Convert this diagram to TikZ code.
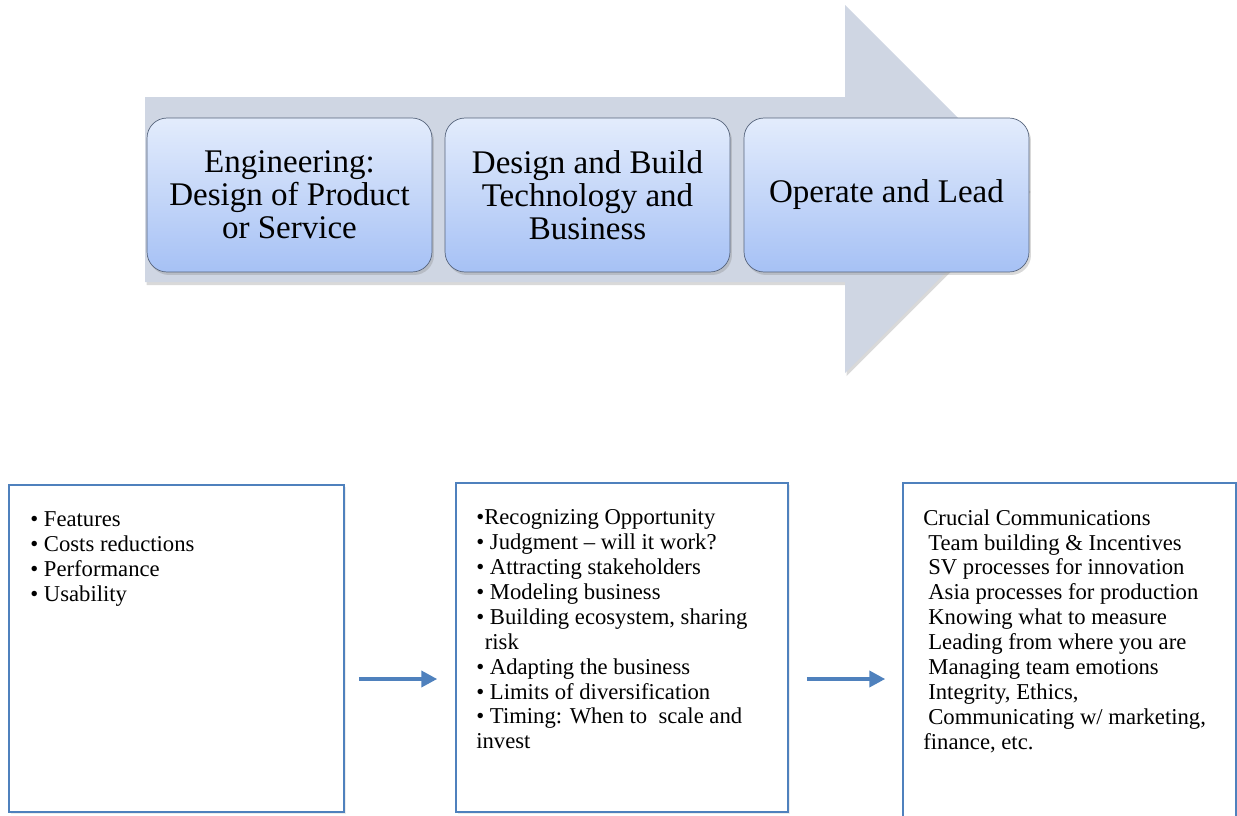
\documentclass[tikz,border=0pt]{standalone}
\usepackage{fontspec}
\setmainfont{Liberation Serif}
\usetikzlibrary{arrows.meta,shadows}
\definecolor{arrowbody}{HTML}{CFD6E3}
\definecolor{stagetop}{HTML}{E3ECFC}
\definecolor{stagebottom}{HTML}{A6C1F5}
\definecolor{stageedge}{HTML}{56647C}
\definecolor{listedge}{HTML}{4F81BD}

\begin{document}
\begin{tikzpicture}[x=0.02cm, y=-0.02cm,
    stage/.style={rectangle, rounded corners=0.4cm, draw=stageedge, top color=stagetop, bottom color=stagebottom,
        minimum width=5.7cm, minimum height=3.08cm, align=center, font=\fontsize{18.8}{18.8}\selectfont,
        drop shadow={opacity=0.3, shadow xshift=0.04cm, shadow yshift=-0.06cm}},
    listbox/.style={rectangle, draw=listedge, line width=0.9pt, fill=white, inner sep=0pt,
        drop shadow={opacity=0.15, shadow xshift=0.04cm, shadow yshift=-0.04cm}},
    listtext/.style={anchor=north west, inner sep=0pt, align=left, font=\fontsize{12.9}{14.2}\selectfont},
    flow/.style={-{Triangle[length=0.32cm,width=0.32cm]}, draw=listedge, line width=2.2pt}]
    \useasboundingbox (0,0) rectangle (1237,815);

    % Big arrow
    \fill[arrowbody, drop shadow={opacity=0.3, shadow xshift=0.03cm, shadow yshift=-0.06cm}]
        (145,97) -- (845,97) -- (845,5) -- (1029,189) -- (845,373) -- (845,282) -- (145,282) -- cycle;

    % Stages
    \node[stage] (engineering) at (289.5,195) {Engineering:\\Design of Product\\or Service};
    \node[stage] (design) at (587.5,195) {Design and Build\\Technology and\\Business};
    \node[stage] (operate) at (886.5,195) {Operate and Lead};

    % Lists
    \node[listbox, minimum width=6.7cm, minimum height=6.54cm] (featbox) at (176.5,648.5) {};
    \node[listbox, minimum width=6.64cm, minimum height=6.58cm] (bizbox) at (622,647.5) {};
    \node[listbox, minimum width=6.66cm, minimum height=7.14cm] (leadbox) at (1069.5,661.5) {};

    \node[listtext] (featlist) at (30,511) {• Features\\• Costs reductions\\• Performance\\• Usability};
    \node[listtext] (bizlist) at (476,509) {•Recognizing Opportunity\\• Judgment – will it work?\\• Attracting stakeholders\\
        • Modeling business\\• Building ecosystem, sharing\\\hspace*{0.17cm}risk\\• Adapting the business\\
        • Limits of diversification\\• Timing: When to\ \ scale and\\invest};
    \node[listtext] (leadlist) at (923,509) {Crucial Communications\\\hspace*{0.1cm}Team building \& Incentives\\
        \hspace*{0.1cm}SV processes for innovation\\\hspace*{0.1cm}Asia processes for production\\
        \hspace*{0.1cm}Knowing what to measure\\\hspace*{0.1cm}Leading from where you are\\
        \hspace*{0.1cm}Managing team emotions\\\hspace*{0.1cm}Integrity, Ethics,\\
        \hspace*{0.1cm}Communicating w/ marketing,\\finance, etc.};

    \coordinate (arrowrow) at (0,679);
    \draw[flow, shorten <=0.28cm, shorten >=0.36cm] (featbox.east |- arrowrow) -- (bizbox.west |- arrowrow);
    \draw[flow, shorten <=0.36cm, shorten >=0.34cm] (bizbox.east |- arrowrow) -- (leadbox.west |- arrowrow);
\end{tikzpicture}
\end{document}
